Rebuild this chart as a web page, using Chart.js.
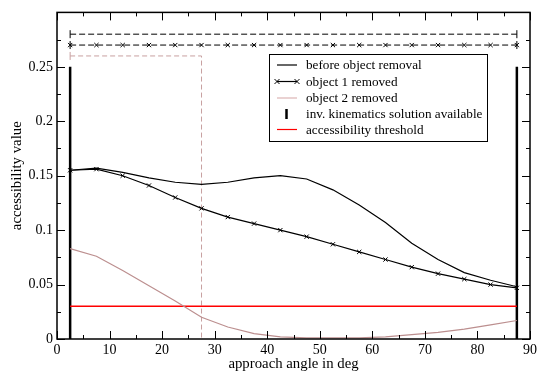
<!DOCTYPE html>
<html lang="en">
<head>
<meta charset="UTF-8">
<title>accessibility value</title>
<script src="https://cdn.jsdelivr.net/npm/chart.js"></script>
<style>
    body{ margin: 0; background: white; }
    .grafico{ position: relative; width: 545px; height: 375px; }
</style>
</head>
<body>
<div class="grafico"><canvas id="meuGrafico"></canvas></div>
<script>
    // dados
    var angulos = [2.5, 7.5, 12.5, 17.5, 22.5, 27.5, 32.5, 37.5, 42.5, 47.5, 52.5, 57.5, 62.5, 67.5, 72.5, 77.5, 82.5, 87.5];
    var antes = [0.155, 0.157, 0.153, 0.148, 0.144, 0.142, 0.144, 0.148, 0.150, 0.147, 0.137, 0.123, 0.107, 0.088, 0.073, 0.061, 0.054, 0.048];
    var objeto1 = [0.155, 0.156, 0.150, 0.141, 0.130, 0.120, 0.112, 0.106, 0.100, 0.094, 0.087, 0.080, 0.073, 0.066, 0.060, 0.055, 0.050, 0.047];
    var objeto2 = [0.083, 0.076, 0.063, 0.049, 0.035, 0.020, 0.011, 0.005, 0.002, 0.001, 0.001, 0.001, 0.002, 0.004, 0.006, 0.009, 0.013, 0.017];
    var limiar = 0.03;
    var faixaIK = [2.5, 87.5];       // angulos com solucao de cinematica inversa
    var alturaIK = 0.25;
    var nivelAntes = 0.28, nivelObj1 = 0.27, nivelObj2 = 0.26;
    var fimObj2 = 27.5;
    var rotulosLegenda = ['before object removal', 'object 1 removed', 'object 2 removed',
                          'inv. kinematics solution available', 'accessibility threshold'];

    var fonte = "'Liberation Serif', 'DejaVu Serif', serif";

    function pontos(xs, ys){
        var p = [];
        for(var i = 0; i < xs.length; i++){
            p.push({x: xs[i], y: ys[i]});
        }
        return p;
    }
    function constante(xs, v){
        return xs.map(function(x){ return {x: x, y: v}; });
    }

    // moldura, marcas internas e legenda
    var moldura = {
        id: 'moldura',
        afterDraw: function(chart){
            var ctx = chart.ctx, a = chart.chartArea;
            var sx = chart.scales.x, sy = chart.scales.y;
            ctx.save();
            ctx.strokeStyle = '#000';
            ctx.lineWidth = 1;
            ctx.beginPath();
            for(var v = 0; v <= 90; v += 5){
                var px = Math.round(sx.getPixelForValue(v)) + 0.5;
                var len = (v % 10 == 0) ? 8 : 4;
                ctx.moveTo(px, a.bottom); ctx.lineTo(px, a.bottom - len);
                ctx.moveTo(px, a.top); ctx.lineTo(px, a.top + len);
            }
            for(var k = 0; k <= 12; k++){
                var py = Math.round(sy.getPixelForValue(k * 0.025)) + 0.5;
                var len2 = (k % 2 == 0) ? 8 : 4;
                ctx.moveTo(a.left, py); ctx.lineTo(a.left + len2, py);
                ctx.moveTo(a.right, py); ctx.lineTo(a.right - len2, py);
            }
            ctx.stroke();
            ctx.lineWidth = 1.5;
            ctx.strokeRect(a.left, a.top, a.right - a.left, a.bottom - a.top);

            // legenda
            var bx = 269.5, by = 54.5, bw = 218, bh = 87;
            ctx.fillStyle = '#fff';
            ctx.fillRect(bx, by, bw, bh);
            ctx.lineWidth = 1;
            ctx.strokeRect(bx, by, bw, bh);
            var linhas = [65, 81.5, 98, 114, 129.5];
            var cores = ['#000', '#000', '#dcb4b4', '#000', '#ff0000'];
            ctx.font = '13.2px ' + fonte;
            ctx.textBaseline = 'middle';
            ctx.textAlign = 'left';
            for(var i = 0; i < rotulosLegenda.length; i++){
                var y = linhas[i];
                ctx.strokeStyle = cores[i];
                ctx.lineWidth = 1.2;
                ctx.beginPath();
                if(i == 3){
                    ctx.lineWidth = 2.5;
                    ctx.moveTo(286.5, y - 5); ctx.lineTo(286.5, y + 5);
                } else {
                    ctx.moveTo(277, y); ctx.lineTo(297, y);
                }
                ctx.stroke();
                if(i == 1){
                    ctx.lineWidth = 1;
                    [277, 297].forEach(function(cx){
                        ctx.beginPath();
                        ctx.moveTo(cx - 2.5, y - 2.5); ctx.lineTo(cx + 2.5, y + 2.5);
                        ctx.moveTo(cx - 2.5, y + 2.5); ctx.lineTo(cx + 2.5, y - 2.5);
                        ctx.stroke();
                    });
                }
                ctx.fillStyle = '#000';
                ctx.fillText(rotulosLegenda[i], 306, y + 1);
            }
            ctx.restore();
        }
    };

    var dados = {
        datasets: [
            {
                data: pontos(angulos, antes),
                borderColor: '#000', borderWidth: 1.2, pointRadius: 0, showLine: true
            },
            {
                data: pontos(angulos, objeto1),
                borderColor: '#000', borderWidth: 1.2, showLine: true,
                pointStyle: 'crossRot', pointRadius: 3, pointBorderColor: '#000', pointBorderWidth: 1
            },
            {
                data: pontos(angulos, objeto2),
                borderColor: '#bc8f8f', borderWidth: 1.2, pointRadius: 0, showLine: true
            },
            {
                data: constante(faixaIK, limiar),
                borderColor: '#ff0000', borderWidth: 1.5, pointRadius: 0, showLine: true
            },
            {
                data: [{x: faixaIK[0], y: 0}, {x: faixaIK[0], y: alturaIK}],
                borderColor: '#000', borderWidth: 2.5, pointRadius: 0, showLine: true
            },
            {
                data: [{x: faixaIK[1], y: 0}, {x: faixaIK[1], y: alturaIK}],
                borderColor: '#000', borderWidth: 2.5, pointRadius: 0, showLine: true
            },
            {
                data: constante(faixaIK, nivelAntes),
                borderColor: '#000', borderWidth: 1, borderDash: [6, 3], showLine: true,
                pointStyle: 'line', rotation: 90, pointRadius: 4, pointBorderColor: '#000', pointBorderWidth: 1
            },
            {
                data: constante(angulos, nivelObj1),
                borderColor: '#000', borderWidth: 1, borderDash: [6, 3], showLine: true,
                pointStyle: 'crossRot', pointRadius: 3, pointBorderColor: '#000', pointBorderWidth: 1
            },
            {
                data: constante(faixaIK, nivelObj1),
                showLine: false,
                pointStyle: 'line', rotation: 90, pointRadius: 4, pointBorderColor: '#000', pointBorderWidth: 1
            },
            {
                data: [{x: faixaIK[0], y: nivelObj2}, {x: fimObj2, y: nivelObj2}, {x: fimObj2, y: 0}],
                borderColor: '#c8a0a0', borderWidth: 1, borderDash: [5, 3], showLine: true,
                pointRadius: 0
            },
            {
                data: [{x: faixaIK[0], y: nivelObj2}],
                showLine: false,
                pointStyle: 'line', rotation: 90, pointRadius: 4, pointBorderColor: '#c8a0a0', pointBorderWidth: 1
            }
        ]
    };

    var config = {
        type: 'scatter',
        data: dados,
        options: {
            animation: false,
            responsive: true,
            maintainAspectRatio: false,
            layout: { padding: { top: 7, right: 15, left: 0, bottom: 0 } },
            plugins: {
                legend: { display: false },
                tooltip: { enabled: false }
            },
            scales: {
                x: {
                    type: 'linear', min: 0, max: 90,
                    grid: { display: false, drawTicks: false },
                    border: { display: false },
                    ticks: { stepSize: 10, color: '#000', padding: 3, maxRotation: 0,
                             font: { family: fonte, size: 14 } },
                    title: { display: true, text: 'approach angle in deg', color: '#000',
                             font: { family: fonte, size: 14.8 }, padding: { top: 0, bottom: 2 } },
                    afterFit: function(s){ s.height = 36; }
                },
                y: {
                    type: 'linear', min: 0, max: 0.3,
                    grid: { display: false, drawTicks: false },
                    border: { display: false },
                    ticks: { stepSize: 0.05, color: '#000', padding: 4,
                             font: { family: fonte, size: 14 },
                             callback: function(v){
                                 if(v > 0.29) return '';
                                 return Math.round(v * 100) / 100 + '';
                             } },
                    title: { display: true, text: 'accessibility value', color: '#000',
                             font: { family: fonte, size: 14.8 }, padding: { top: 8, bottom: 0 } },
                    afterFit: function(s){ s.width = 57; }
                }
            }
        },
        plugins: [moldura]
    };

    new Chart(document.getElementById('meuGrafico'), config);
</script>
</body>
</html>
